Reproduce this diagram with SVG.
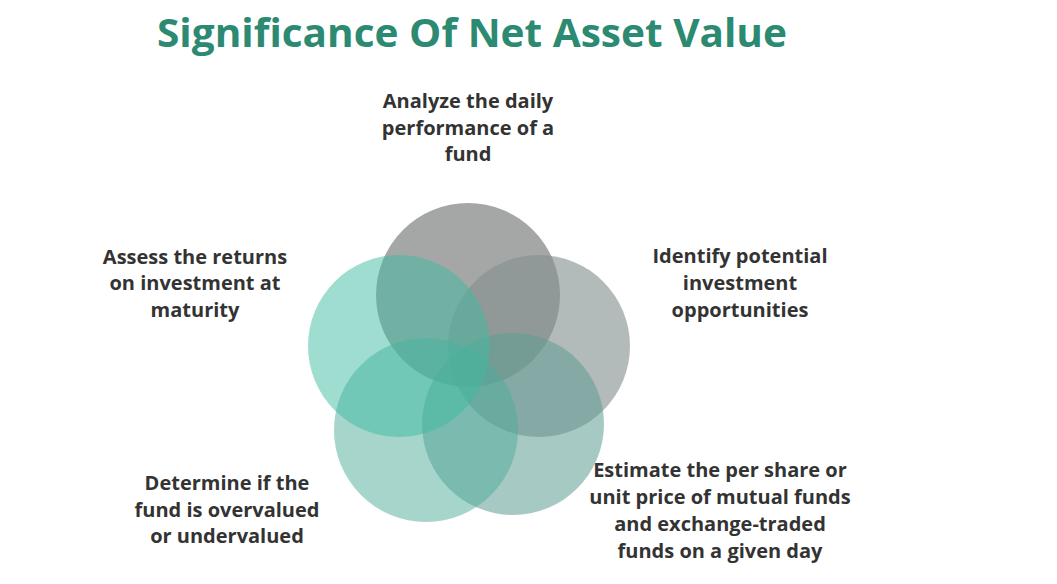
<svg xmlns="http://www.w3.org/2000/svg" width="1057" height="584" viewBox="0 0 1057 584">
<style>
.title{font-family:"Open Sans","Liberation Sans",sans-serif;font-weight:700;font-size:40px;fill:#2b8a71;text-anchor:middle}
.lbl{font-family:"Open Sans","Liberation Sans",sans-serif;font-weight:700;font-size:20px;fill:#333333;text-anchor:middle}
</style>
<rect width="1057" height="584" fill="#ffffff"/>
<text class="title" x="472" y="47" textLength="630" lengthAdjust="spacingAndGlyphs">Significance Of Net Asset Value</text>
<g id="circles">
<circle id="c-top" cx="468" cy="295" r="92" fill="#747878" opacity="0.65"/>
<circle id="c-right" cx="539" cy="346" r="91" fill="#84928f" opacity="0.62"/>
<circle id="c-bottomright" cx="513" cy="424" r="91" fill="#5f9c93" opacity="0.55"/>
<circle id="c-bottomleft" cx="426" cy="430" r="92" fill="#4eab99" opacity="0.5"/>
<circle id="c-left" cx="399" cy="346" r="91" fill="#3dbb9f" opacity="0.5"/>
</g>
<g id="n-analyze"><text class="lbl" x="468" y="108">Analyze the daily</text><text class="lbl" x="468" y="135">performance of a</text><text class="lbl" x="468" y="161">fund</text></g>
<g id="n-assess"><text class="lbl" x="195" y="264">Assess the returns</text><text class="lbl" x="195" y="290">on investment at</text><text class="lbl" x="195" y="317">maturity</text></g>
<g id="n-identify"><text class="lbl" x="740" y="263">Identify potential</text><text class="lbl" x="740" y="290">investment</text><text class="lbl" x="740" y="317">opportunities</text></g>
<g id="n-estimate"><text class="lbl" x="720" y="477">Estimate the per share or</text><text class="lbl" x="720" y="504">unit price of mutual funds</text><text class="lbl" x="720" y="531">and exchange-traded</text><text class="lbl" x="720" y="558">funds on a given day</text></g>
<g id="n-determine"><text class="lbl" x="227" y="490">Determine if the</text><text class="lbl" x="227" y="517">fund is overvalued</text><text class="lbl" x="227" y="543">or undervalued</text></g>
<g id="connectors"/>
</svg>
